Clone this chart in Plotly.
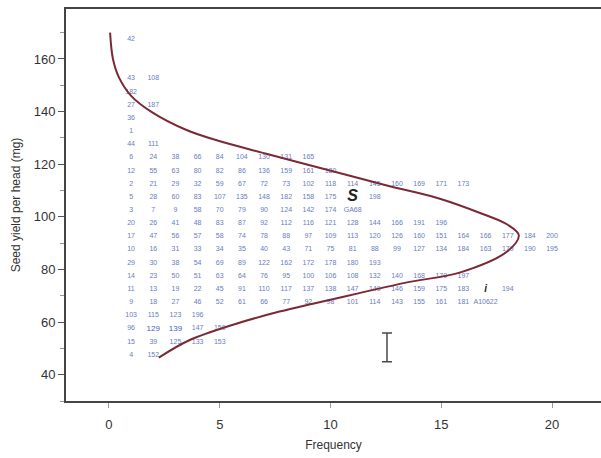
import plotly.graph_objects as go

# Seed-yield classes (mg, bin centres) and the line numbers falling in each class.
# Each label's position along a row gives its running frequency count.
row_yield = [167.5, 152.5, 147.5, 142.5, 137.5, 132.5, 127.5, 122.5, 117.5, 112.5,
             107.5, 102.5, 97.5, 92.5, 87.5, 82.5, 77.5, 72.5, 67.5, 62.5, 57.5, 52.5, 47.5]
row_labels = [
    ["42"],
    ["43", "108"],
    ["182"],
    ["27", "187"],
    ["36"],
    ["1"],
    ["44", "111"],
    ["6", "24", "38", "66", "84", "104", "130", "131", "165"],
    ["12", "55", "63", "80", "82", "86", "136", "159", "161", "180"],
    ["2", "21", "29", "32", "59", "67", "72", "73", "102", "118", "114", "145", "160", "169", "171", "173"],
    ["5", "28", "60", "83", "107", "135", "148", "182", "158", "175", "S", "198"],
    ["3", "7", "9", "58", "70", "79", "90", "124", "142", "174", "GA68"],
    ["20", "26", "41", "48", "83", "87", "92", "112", "116", "121", "128", "144", "166", "191", "196"],
    ["17", "47", "56", "57", "58", "74", "78", "88", "97", "109", "113", "120", "126", "160", "151",
     "164", "166", "177", "184", "200"],
    ["10", "16", "31", "33", "34", "35", "40", "43", "71", "75", "81", "88", "99", "127", "134",
     "184", "163", "179", "190", "195"],
    ["29", "30", "38", "54", "69", "89", "122", "162", "172", "178", "180", "193"],
    ["14", "23", "50", "51", "63", "64", "76", "95", "100", "106", "108", "132", "140", "168", "170", "197"],
    ["11", "13", "19", "22", "45", "91", "110", "117", "137", "138", "147", "149", "146", "159", "175",
     "183", "i", "194"],
    ["9", "18", "27", "46", "52", "61", "66", "77", "92", "98", "101", "114", "143", "155", "161",
     "181", "A10622"],
    ["103", "115", "123", "196"],
    ["96", "129", "139", "147", "150"],
    ["15", "39", "125", "133", "153"],
    ["4", "152"],
]
# labels drawn as highlighted entries
bold_labels = ["S", "i"]
bright_labels = ["129", "139"]

# Fitted frequency curve (frequency, seed yield)
curve_freq = [0.05, 0.18, 0.45, 1.0, 1.9, 3.5, 4.9, 7.1, 9.8, 12.5, 14.9, 16.9, 18.0, 18.5,
              18.0, 15.9, 13.4, 11.3, 9.2, 7.7, 5.6, 3.6, 2.25]
curve_yield = [170, 160, 153, 146, 140, 133, 129, 124, 118, 112, 107, 101, 97, 93,
               87, 79, 75, 71, 67, 64, 59, 53, 46.5]

# LSD bar
lsd_x = [12.55]
lsd_center = [50.35]
lsd_half = [5.45]

fig = go.Figure()

plain_x, plain_y, plain_t = [], [], []
bright_x, bright_y, bright_t = [], [], []
bold_x, bold_y, bold_t = [], [], []
for yv, labels in zip(row_yield, row_labels):
    for i, lab in enumerate(labels):
        fx = i + 1
        if lab in bold_labels:
            bold_x.append(fx); bold_y.append(yv); bold_t.append(lab)
        elif lab in bright_labels:
            bright_x.append(fx); bright_y.append(yv); bright_t.append(lab)
        else:
            plain_x.append(fx); plain_y.append(yv); plain_t.append(lab)

fig.add_trace(go.Scatter(
    x=plain_x, y=plain_y, text=plain_t, mode="text",
    textfont=dict(family="Liberation Sans, Arial, sans-serif", size=7, color="#6a7dbb"),
    hoverinfo="skip", showlegend=False))
fig.add_trace(go.Scatter(
    x=bright_x, y=bright_y, text=bright_t, mode="text",
    textfont=dict(family="Liberation Sans, Arial, sans-serif", size=8, color="#3f5fc4"),
    hoverinfo="skip", showlegend=False))
fig.add_trace(go.Scatter(
    x=bold_x, y=bold_y, text=["<b><i>%s</i></b>" % t for t in bold_t], mode="text",
    textfont=dict(family="Liberation Sans, Arial, sans-serif",
                  size=[16 if t == "S" else 10 for t in bold_t], color="#222222"),
    hoverinfo="skip", showlegend=False))

fig.add_trace(go.Scatter(
    x=curve_freq, y=curve_yield, mode="lines",
    line=dict(color="#7b2a35", width=2, shape="spline", smoothing=1.0),
    hoverinfo="skip", showlegend=False))

fig.add_trace(go.Scatter(
    x=lsd_x, y=lsd_center, mode="markers",
    marker=dict(size=1, color="rgba(0,0,0,0)"),
    error_y=dict(type="data", array=lsd_half, color="#4a4a4a", thickness=1.5, width=5),
    hoverinfo="skip", showlegend=False))

axis_font = dict(family="Liberation Sans, Arial, sans-serif", size=13, color="#333333")
fig.update_layout(
    width=601, height=458, autosize=False,
    margin=dict(l=66, r=0, t=9, b=57),
    paper_bgcolor="white", plot_bgcolor="white",
    font=dict(family="Liberation Sans, Arial, sans-serif", color="#333333"),
    xaxis=dict(
        range=[-1.94, 22.21], tickvals=[0, 5, 10, 15, 20],
        ticks="outside", ticklen=5, tickcolor="#999999", ticklabelstandoff=5,
        showline=True, linecolor="#444444", linewidth=2, mirror=True,
        showgrid=False, zeroline=False, tickfont=axis_font,
        title=dict(text="Frequency", font=dict(size=12, color="#333333"), standoff=10),
    ),
    yaxis=dict(
        range=[30, 179], tickvals=[40, 60, 80, 100, 120, 140, 160],
        ticks="outside", ticklen=6, tickcolor="#555555",
        minor=dict(dtick=10, tick0=30, ticks="outside", ticklen=4, tickcolor="#999999"),
        showline=True, linecolor="#444444", linewidth=2, mirror=False,
        showgrid=False, zeroline=False, tickfont=axis_font,
        title=dict(text="Seed yield per head (mg)", font=dict(size=12, color="#333333"), standoff=10),
    ),
)

fig.write_html("out.html")
